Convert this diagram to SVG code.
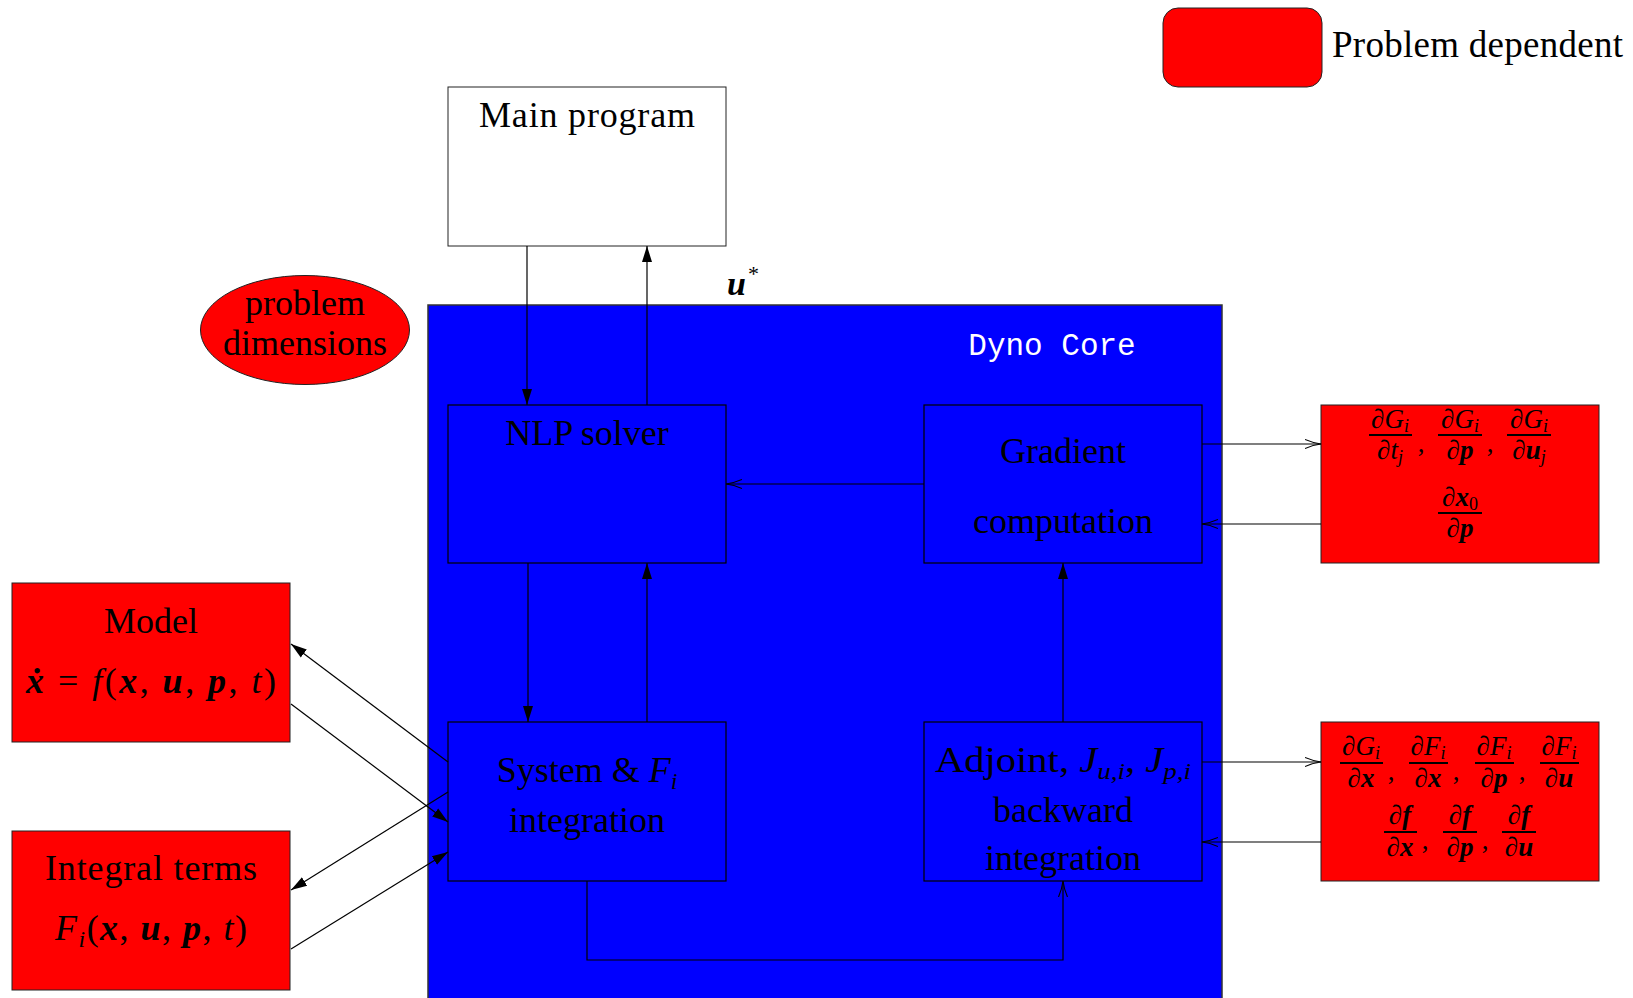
<svg xmlns="http://www.w3.org/2000/svg" width="1633" height="998" viewBox="0 0 1633 998">
<style>
.t{font-family:"Liberation Serif",serif;font-size:36px;fill:#000;text-anchor:middle}
.m{font-family:"Liberation Serif",serif;font-size:27px;fill:#000;text-anchor:middle}
.it{font-style:italic}
.bi{font-style:italic;font-weight:bold}
.sub{font-size:18px}
.red{fill:#ff0000;stroke:#222;stroke-width:1}
.blue{fill:#0000ff;stroke:#000;stroke-width:1.2}
.bar{stroke:#000;stroke-width:2.2}
.c{fill:none;stroke:#000;stroke-width:1.2}
</style>
<defs>
<marker id="fa" markerUnits="userSpaceOnUse" markerWidth="18" markerHeight="12" refX="16" refY="6" orient="auto"><path d="M0,1 L16,6 L0,11 Z" fill="#000"/></marker>
<marker id="oa" markerUnits="userSpaceOnUse" markerWidth="18" markerHeight="12" refX="16" refY="6" orient="auto"><path d="M0,1.5 Q8,5 16,6 Q8,7 0,10.5" fill="none" stroke="#000" stroke-width="1.1"/></marker>
</defs>

<g id="legend">
<rect x="1163" y="8" width="159" height="79" rx="15" class="red"/>
<text x="1332" y="57" class="t" style="text-anchor:start;font-size:37px" textLength="291" lengthAdjust="spacing">Problem dependent</text>
</g>

<g id="dyno-core">
<rect x="428" y="305" width="794" height="700" fill="#0000ff" stroke="#333" stroke-width="1.5"/>
<text x="1052" y="355" style="font-family:'Liberation Mono',monospace;font-size:31px;fill:#fff;text-anchor:middle">Dyno Core</text>
</g>

<g id="main-program">
<rect x="448" y="87" width="278" height="159" fill="#fff" stroke="#222" stroke-width="1"/>
<text x="587" y="127" class="t" textLength="216" lengthAdjust="spacing">Main program</text>
</g>

<g id="ustar">
<text x="727" y="295" style="font-family:'Liberation Serif',serif;font-size:34px;font-style:italic;font-weight:bold">u<tspan dx="2" dy="-14" style="font-size:22px;font-style:normal;font-weight:normal">*</tspan></text>
</g>

<g id="problem-dimensions">
<ellipse cx="305" cy="330" rx="104.5" ry="54.5" class="red"/>
<text x="305" y="315" class="t">problem</text>
<text x="305" y="355" class="t">dimensions</text>
</g>

<g id="nlp-solver">
<rect x="448" y="405" width="278" height="158" class="blue"/>
<text x="587" y="445" class="t">NLP solver</text>
</g>

<g id="gradient">
<rect x="924" y="405" width="278" height="158" class="blue"/>
<text x="1063" y="463" class="t">Gradient</text>
<text x="1063" y="533" class="t">computation</text>
</g>

<g id="system">
<rect x="448" y="722" width="278" height="159" class="blue"/>
<text x="587" y="782" class="t">System &amp; <tspan class="it">F</tspan><tspan class="it" style="font-size:24px" dy="7">i</tspan></text>
<text x="587" y="832" class="t">integration</text>
</g>

<g id="adjoint">
<rect x="924" y="722" width="278" height="159" class="blue"/>
<text x="1063" y="772" class="t" textLength="256" lengthAdjust="spacingAndGlyphs">Adjoint, <tspan class="it">J</tspan><tspan class="it" style="font-size:24px" dy="7">u,i</tspan><tspan dy="-7">, </tspan><tspan class="it">J</tspan><tspan class="it" style="font-size:24px" dy="7">p,i</tspan></text>
<text x="1063" y="822" class="t">backward</text>
<text x="1063" y="870" class="t">integration</text>
</g>

<g id="model">
<rect x="12" y="583" width="278" height="159" class="red"/>
<text x="151" y="633" class="t">Model</text>
<text x="151" y="693" class="t" textLength="250" lengthAdjust="spacing"><tspan class="bi">x&#x307;</tspan> = <tspan class="it">f</tspan>(<tspan class="bi">x</tspan>, <tspan class="bi">u</tspan>, <tspan class="bi">p</tspan>, <tspan class="it">t</tspan>)</text>
</g>

<g id="integral-terms">
<rect x="12" y="831" width="278" height="159" class="red"/>
<text x="151" y="880" class="t" textLength="212" lengthAdjust="spacing">Integral terms</text>
<text x="151" y="940" class="t" textLength="192" lengthAdjust="spacing"><tspan class="it">F</tspan><tspan class="it" style="font-size:24px" dy="7">i</tspan><tspan dy="-7">(</tspan><tspan class="bi">x</tspan>, <tspan class="bi">u</tspan>, <tspan class="bi">p</tspan>, <tspan class="it">t</tspan>)</text>
</g>

<g id="gradient-derivatives">
<rect x="1321" y="405" width="278" height="158" class="red"/>
<text x="1390" y="428" class="m">∂<tspan class="it">G</tspan><tspan class="it sub" dy="4">i</tspan></text>
<line x1="1369" y1="435" x2="1412" y2="435" class="bar"/>
<text x="1390" y="459" class="m">∂<tspan class="it">t</tspan><tspan class="it sub" dy="4">j</tspan></text>
<text x="1421" y="452" class="m">,</text>
<text x="1460" y="428" class="m">∂<tspan class="it">G</tspan><tspan class="it sub" dy="4">i</tspan></text>
<line x1="1438" y1="435" x2="1482" y2="435" class="bar"/>
<text x="1460" y="459" class="m">∂<tspan class="bi">p</tspan></text>
<text x="1490" y="452" class="m">,</text>
<text x="1529" y="428" class="m">∂<tspan class="it">G</tspan><tspan class="it sub" dy="4">i</tspan></text>
<line x1="1507" y1="435" x2="1551" y2="435" class="bar"/>
<text x="1529" y="459" class="m">∂<tspan class="bi">u</tspan><tspan class="it sub" dy="4">j</tspan></text>
<text x="1460" y="506" class="m">∂<tspan class="bi">x</tspan><tspan class="sub" dy="4">0</tspan></text>
<line x1="1438" y1="513" x2="1482" y2="513" class="bar"/>
<text x="1460" y="537" class="m">∂<tspan class="bi">p</tspan></text>
</g>

<g id="adjoint-derivatives">
<rect x="1321" y="722" width="278" height="159" class="red"/>
<text x="1361" y="755" class="m">∂<tspan class="it">G</tspan><tspan class="it sub" dy="4">i</tspan></text>
<line x1="1340" y1="763" x2="1383" y2="763" class="bar"/>
<text x="1361" y="787" class="m">∂<tspan class="bi">x</tspan></text>
<text x="1391" y="780" class="m">,</text>
<text x="1428" y="755" class="m">∂<tspan class="it">F</tspan><tspan class="it sub" dy="4">i</tspan></text>
<line x1="1409" y1="763" x2="1448" y2="763" class="bar"/>
<text x="1428" y="787" class="m">∂<tspan class="bi">x</tspan></text>
<text x="1456" y="780" class="m">,</text>
<text x="1494" y="755" class="m">∂<tspan class="it">F</tspan><tspan class="it sub" dy="4">i</tspan></text>
<line x1="1475" y1="763" x2="1514" y2="763" class="bar"/>
<text x="1494" y="787" class="m">∂<tspan class="bi">p</tspan></text>
<text x="1522" y="780" class="m">,</text>
<text x="1559" y="755" class="m">∂<tspan class="it">F</tspan><tspan class="it sub" dy="4">i</tspan></text>
<line x1="1540" y1="763" x2="1579" y2="763" class="bar"/>
<text x="1559" y="787" class="m">∂<tspan class="bi">u</tspan></text>
<text x="1400" y="824" class="m">∂<tspan class="bi">f</tspan></text>
<line x1="1384" y1="832" x2="1417" y2="832" class="bar"/>
<text x="1400" y="856" class="m">∂<tspan class="bi">x</tspan></text>
<text x="1425" y="849" class="m">,</text>
<text x="1460" y="824" class="m">∂<tspan class="bi">f</tspan></text>
<line x1="1443" y1="832" x2="1477" y2="832" class="bar"/>
<text x="1460" y="856" class="m">∂<tspan class="bi">p</tspan></text>
<text x="1485" y="849" class="m">,</text>
<text x="1519" y="824" class="m">∂<tspan class="bi">f</tspan></text>
<line x1="1502" y1="832" x2="1536" y2="832" class="bar"/>
<text x="1519" y="856" class="m">∂<tspan class="bi">u</tspan></text>
</g>

<g id="connectors">
<path d="M527,246 V405" class="c" marker-end="url(#fa)"/>
<path d="M647,405 V246" class="c" marker-end="url(#fa)"/>
<path d="M528,563 V722" class="c" marker-end="url(#fa)"/>
<path d="M647,722 V563" class="c" marker-end="url(#fa)"/>
<path d="M924,484 H726" class="c" marker-end="url(#oa)"/>
<path d="M1063,722 V563" class="c" marker-end="url(#fa)"/>
<path d="M587,881 V960 H1063 V881" class="c" marker-end="url(#oa)"/>
<path d="M1202,444 H1321" class="c" marker-end="url(#oa)"/>
<path d="M1321,524 H1202" class="c" marker-end="url(#oa)"/>
<path d="M1202,762 H1321" class="c" marker-end="url(#oa)"/>
<path d="M1321,842 H1202" class="c" marker-end="url(#oa)"/>
<path d="M448,762 L291,644" class="c" marker-end="url(#fa)"/>
<path d="M291,704 L448,822" class="c" marker-end="url(#fa)"/>
<path d="M448,792 L291,890" class="c" marker-end="url(#fa)"/>
<path d="M291,949 L448,852" class="c" marker-end="url(#fa)"/>
</g>
</svg>
